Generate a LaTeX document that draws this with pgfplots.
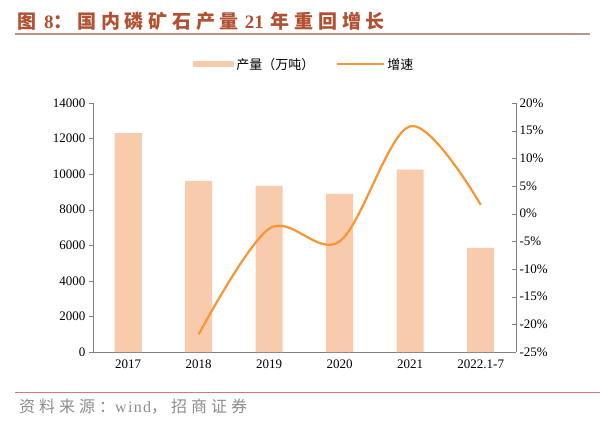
\documentclass[border=0pt]{standalone}
\usepackage{pgfplots}
\pgfplotsset{compat=1.18}
\usepackage{fontspec}
\setmainfont{Liberation Serif}
\newfontfamily\cjk{Noto Sans CJK SC}
\newfontfamily\cjkt[LetterSpace=25]{Noto Sans CJK SC}
\newfontfamily\cjks[LetterSpace=25]{Noto Sans CJK SC}
\newfontfamily\sers[LetterSpace=8]{Liberation Serif}
\definecolor{barc}{RGB}{248,203,173}
\definecolor{linec}{RGB}{247,150,50}
\definecolor{titlec}{RGB}{178,80,50}
\definecolor{axc}{RGB}{128,128,128}
\begin{document}
\begin{tikzpicture}
\useasboundingbox (0pt,0pt) rectangle (600pt,432pt);
% title
\node[anchor=base west,text=titlec,font=\bfseries\fontsize{19}{21}\selectfont,inner sep=0] at (17pt,403pt) {{\cjkt 图}\kern8pt 8{\cjkt ：国内磷矿石产量}\kern6pt 21\kern7pt{\cjkt 年重回增长}};
\draw[color={rgb,255:red,190;green,145;blue,135},line width=1.2pt] (15pt,398pt) -- (590pt,398pt);
% source
\draw[color={rgb,255:red,215;green,120;blue,120},line width=0.8pt] (15pt,40pt) -- (600pt,40pt);
\node[anchor=base west,text={rgb,255:red,140;green,140;blue,140},font=\fontsize{16}{18}\selectfont,inner sep=0] at (19pt,20pt) {{\cjks 资料来源：}{\sers wind}{\cjks ，招商证券}};
\begin{axis}[
  at={(93pt,80pt)}, anchor=south west,
  width=423pt, height=249pt, scale only axis,
  xmin=-0.5, xmax=5.5, ymin=0, ymax=14000,
  ytick={0,2000,...,14000},
  xtick={0,...,5},
  xticklabels={2017,2018,2019,2020,2021,2022.1-7},
  extra x ticks={0.5,1.5,2.5,3.5,4.5},
  extra x tick labels={},
  extra x tick style={major tick length=4pt, tick style={axc}},
  axis y line*=left, axis x line*=bottom,
  axis line style={axc,line width=0.8pt},
  x axis line style={-}, y axis line style={-},
  xtick style={draw=none},
  ytick style={axc}, major tick length=4pt,
  tick align=outside,
  ticklabel style={font=\fontsize{13}{15}\selectfont},
  /pgf/number format/assume math mode=true,
  scaled y ticks=false,
  yticklabel style={/pgf/number format/1000 sep={}},
  clip=false,
]
\addplot[ybar, bar width=27pt, fill=barc, draw=none] coordinates {
 (0,12300) (1,9620) (2,9340) (3,8890) (4,10260) (5,5850)};
\end{axis}
\begin{axis}[
  at={(93pt,80pt)}, anchor=south west,
  width=423pt, height=249pt, scale only axis,
  xmin=-0.5, xmax=5.5, ymin=-25, ymax=20,
  ytick={-25,-20,...,20},
  yticklabel={\pgfmathprintnumber{\tick}\%},
  axis y line*=right, axis x line=none,
  axis line style={axc,line width=0.8pt,-},
  ytick style={axc}, major tick length=4pt, tick align=inside,
  ticklabel style={font=\fontsize{13}{15}\selectfont},
  /pgf/number format/assume math mode=true,
  legend style={at={(0.5,1.155)}, anchor=center, draw=none, font=\cjk\fontsize{13}{15}\selectfont, legend columns=2, /tikz/every even column/.append style={column sep=20pt}},
  legend cell align=left,
  clip=false,
]
\addlegendimage{area legend, fill=barc, draw=none, legend image code/.code={\fill[barc] (0pt,-3pt) rectangle (41pt,3pt);}}
\addlegendentry{产量（万吨）}
\addlegendimage{linec, line width=2pt, legend image code/.code={\draw[linec,line width=2pt] (0pt,0pt) -- (47pt,0pt);}}
\addlegendentry{增速}
\addplot[linec, line width=2.2pt, smooth, tension=0.55] coordinates {
 (1,-21.8) (2,-2.7) (3,-5.0) (4,15.8) (5,1.6)};
\end{axis}
\end{tikzpicture}
\end{document}
